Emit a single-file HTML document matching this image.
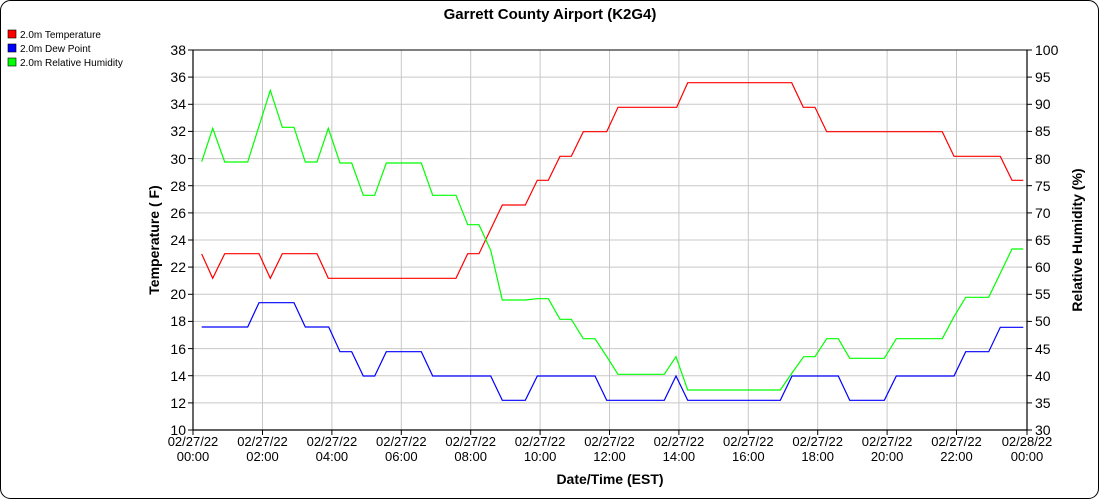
<!DOCTYPE html>
<html><head><meta charset="utf-8"><style>
html,body{margin:0;padding:0;background:#fff;}
svg{display:block;font-family:"Liberation Sans",sans-serif;}
</style></head><body>
<svg width="1100" height="500" viewBox="0 0 1100 500">
<rect x="0.5" y="0.5" width="1098" height="498" rx="10" fill="#fff" stroke="#000" stroke-width="1"/>
<text x="550" y="19" font-size="15" font-weight="bold" text-anchor="middle">Garrett County Airport (K2G4)</text>
<g font-size="10">
<rect x="8" y="30" width="8" height="8" fill="#f00" stroke="#000" stroke-width="0.6"/><text x="20" y="38">2.0m Temperature</text>
<rect x="8" y="44" width="8" height="8" fill="#00f" stroke="#000" stroke-width="0.6"/><text x="20" y="52">2.0m Dew Point</text>
<rect x="8" y="58" width="8" height="8" fill="#0f0" stroke="#000" stroke-width="0.6"/><text x="20" y="66">2.0m Relative Humidity</text>
</g>
<g stroke="#c8c8c8" stroke-width="1">
<line x1="262.5" y1="50" x2="262.5" y2="430"/><line x1="331.9" y1="50" x2="331.9" y2="430"/><line x1="401.3" y1="50" x2="401.3" y2="430"/><line x1="470.7" y1="50" x2="470.7" y2="430"/><line x1="540.1" y1="50" x2="540.1" y2="430"/><line x1="609.5" y1="50" x2="609.5" y2="430"/><line x1="678.9" y1="50" x2="678.9" y2="430"/><line x1="748.3" y1="50" x2="748.3" y2="430"/><line x1="817.7" y1="50" x2="817.7" y2="430"/><line x1="887.1" y1="50" x2="887.1" y2="430"/><line x1="956.5" y1="50" x2="956.5" y2="430"/>
<line x1="193" y1="77.1" x2="1027" y2="77.1"/><line x1="193" y1="104.3" x2="1027" y2="104.3"/><line x1="193" y1="131.4" x2="1027" y2="131.4"/><line x1="193" y1="158.6" x2="1027" y2="158.6"/><line x1="193" y1="185.7" x2="1027" y2="185.7"/><line x1="193" y1="212.9" x2="1027" y2="212.9"/><line x1="193" y1="240" x2="1027" y2="240"/><line x1="193" y1="267.1" x2="1027" y2="267.1"/><line x1="193" y1="294.3" x2="1027" y2="294.3"/><line x1="193" y1="321.4" x2="1027" y2="321.4"/><line x1="193" y1="348.6" x2="1027" y2="348.6"/><line x1="193" y1="375.7" x2="1027" y2="375.7"/><line x1="193" y1="402.9" x2="1027" y2="402.9"/>
</g>
<line x1="193" y1="50" x2="1027" y2="50" stroke="#000"/>
<g stroke="#000" stroke-width="1.2">
<line x1="193" y1="50" x2="193" y2="430"/><line x1="1027" y1="50" x2="1027" y2="430"/><line x1="193" y1="430" x2="1027" y2="430"/>
</g>
<g stroke="#000" stroke-width="1">
<line x1="188" y1="50" x2="193" y2="50"/><line x1="188" y1="77.1" x2="193" y2="77.1"/><line x1="188" y1="104.3" x2="193" y2="104.3"/><line x1="188" y1="131.4" x2="193" y2="131.4"/><line x1="188" y1="158.6" x2="193" y2="158.6"/><line x1="188" y1="185.7" x2="193" y2="185.7"/><line x1="188" y1="212.9" x2="193" y2="212.9"/><line x1="188" y1="240" x2="193" y2="240"/><line x1="188" y1="267.1" x2="193" y2="267.1"/><line x1="188" y1="294.3" x2="193" y2="294.3"/><line x1="188" y1="321.4" x2="193" y2="321.4"/><line x1="188" y1="348.6" x2="193" y2="348.6"/><line x1="188" y1="375.7" x2="193" y2="375.7"/><line x1="188" y1="402.9" x2="193" y2="402.9"/><line x1="188" y1="430" x2="193" y2="430"/>
<line x1="1027" y1="50" x2="1032" y2="50"/><line x1="1027" y1="77.1" x2="1032" y2="77.1"/><line x1="1027" y1="104.3" x2="1032" y2="104.3"/><line x1="1027" y1="131.4" x2="1032" y2="131.4"/><line x1="1027" y1="158.6" x2="1032" y2="158.6"/><line x1="1027" y1="185.7" x2="1032" y2="185.7"/><line x1="1027" y1="212.9" x2="1032" y2="212.9"/><line x1="1027" y1="240" x2="1032" y2="240"/><line x1="1027" y1="267.1" x2="1032" y2="267.1"/><line x1="1027" y1="294.3" x2="1032" y2="294.3"/><line x1="1027" y1="321.4" x2="1032" y2="321.4"/><line x1="1027" y1="348.6" x2="1032" y2="348.6"/><line x1="1027" y1="375.7" x2="1032" y2="375.7"/><line x1="1027" y1="402.9" x2="1032" y2="402.9"/><line x1="1027" y1="430" x2="1032" y2="430"/>
<line x1="193" y1="430" x2="193" y2="435"/><line x1="262.5" y1="430" x2="262.5" y2="435"/><line x1="331.9" y1="430" x2="331.9" y2="435"/><line x1="401.3" y1="430" x2="401.3" y2="435"/><line x1="470.7" y1="430" x2="470.7" y2="435"/><line x1="540.1" y1="430" x2="540.1" y2="435"/><line x1="609.5" y1="430" x2="609.5" y2="435"/><line x1="678.9" y1="430" x2="678.9" y2="435"/><line x1="748.3" y1="430" x2="748.3" y2="435"/><line x1="817.7" y1="430" x2="817.7" y2="435"/><line x1="887.1" y1="430" x2="887.1" y2="435"/><line x1="956.5" y1="430" x2="956.5" y2="435"/><line x1="1027" y1="430" x2="1027" y2="435"/>
</g>
<g font-size="14" text-anchor="end">
<text x="186" y="55">38</text><text x="186" y="82">36</text><text x="186" y="109">34</text><text x="186" y="136">32</text><text x="186" y="164">30</text><text x="186" y="191">28</text><text x="186" y="218">26</text><text x="186" y="245">24</text><text x="186" y="272">22</text><text x="186" y="299">20</text><text x="186" y="326">18</text><text x="186" y="354">16</text><text x="186" y="381">14</text><text x="186" y="408">12</text><text x="186" y="435">10</text>
</g>
<g font-size="14">
<text x="1035" y="55">100</text><text x="1035" y="82">95</text><text x="1035" y="109">90</text><text x="1035" y="136">85</text><text x="1035" y="164">80</text><text x="1035" y="191">75</text><text x="1035" y="218">70</text><text x="1035" y="245">65</text><text x="1035" y="272">60</text><text x="1035" y="299">55</text><text x="1035" y="326">50</text><text x="1035" y="354">45</text><text x="1035" y="381">40</text><text x="1035" y="408">35</text><text x="1035" y="435">30</text>
</g>
<g font-size="13" text-anchor="middle">
<text x="193" y="446">02/27/22</text><text x="193" y="461">00:00</text>
<text x="262.5" y="446">02/27/22</text><text x="262.5" y="461">02:00</text>
<text x="331.9" y="446">02/27/22</text><text x="331.9" y="461">04:00</text>
<text x="401.3" y="446">02/27/22</text><text x="401.3" y="461">06:00</text>
<text x="470.7" y="446">02/27/22</text><text x="470.7" y="461">08:00</text>
<text x="540.1" y="446">02/27/22</text><text x="540.1" y="461">10:00</text>
<text x="609.5" y="446">02/27/22</text><text x="609.5" y="461">12:00</text>
<text x="678.9" y="446">02/27/22</text><text x="678.9" y="461">14:00</text>
<text x="748.3" y="446">02/27/22</text><text x="748.3" y="461">16:00</text>
<text x="817.7" y="446">02/27/22</text><text x="817.7" y="461">18:00</text>
<text x="887.1" y="446">02/27/22</text><text x="887.1" y="461">20:00</text>
<text x="956.5" y="446">02/27/22</text><text x="956.5" y="461">22:00</text>
<text x="1027" y="446">02/28/22</text><text x="1027" y="461">00:00</text>
</g>
<text x="610" y="484" font-size="14" font-weight="bold" text-anchor="middle">Date/Time (EST)</text>
<text transform="translate(159,240) rotate(-90)" font-size="14" font-weight="bold" text-anchor="middle">Temperature ( F)</text>
<text transform="translate(1082,240) rotate(-90)" font-size="14" font-weight="bold" text-anchor="middle">Relative Humidity (%)</text>
<g fill="none" stroke-width="1.2">
<polyline stroke="#f00" points="201.7,254 212.7,278.3 224.7,253.7 259,253.7 270.3,278.3 282.3,253.7 317,253.7 328.3,278.3 456,278.3 467.7,253.7 479,253.7 502.3,205 525.3,205 537.3,180.3 548.3,180.3 560,156.3 571.3,156.3 583.3,131.7 606.7,131.7 618,107.3 676.7,107.3 687.7,82.7 791.7,82.7 803.3,107.3 815,107.3 826.7,131.7 942.3,131.7 954,156.3 1000.3,156.3 1012,180.3 1023.3,180.3"/>
<polyline stroke="#00f" points="201.7,327 247.7,327 259,302.7 294,302.7 305.3,327 328.7,327 340,351.7 351.7,351.7 363.3,376 374.7,376 386.3,351.7 421.3,351.7 432.7,376 490.7,376 502.3,400.3 525.3,400.3 537.3,376 595,376 606.7,400.3 664.3,400.3 676,376 687.7,400.3 780.3,400.3 792,376 838.3,376 849.7,400.3 884.3,400.3 896.3,376 954,376 965.7,351.7 988.7,351.7 1000.3,327.3 1023.3,327.3"/>
<polyline stroke="#0f0" points="201.7,161.7 212.7,128.3 224.7,162 247.7,162 270.3,90.3 282.3,127.3 294,127.3 305.3,162 317,162 328.3,128.3 340,163 351.7,163 363.3,195.3 374.7,195.3 386.3,163 421.3,163 432.7,195.3 456,195.3 467.7,224.7 479,224.7 490.7,250.3 502.3,300 525.3,300 537.3,298.7 548.3,298.7 560,319.3 571.3,319.3 583.3,338.7 595,338.7 606.7,356.5 618,374.3 664.3,374.3 676,356.7 687.7,390 780.3,390 792,373 803.7,356.7 815,356.7 826.7,338.7 838.3,338.7 849.7,358.3 884.3,358.3 896.3,338.7 942.3,338.7 954,316.7 965.7,297.3 988.7,297.3 1012,249 1023.3,249"/>
</g>
</svg>
</body></html>
